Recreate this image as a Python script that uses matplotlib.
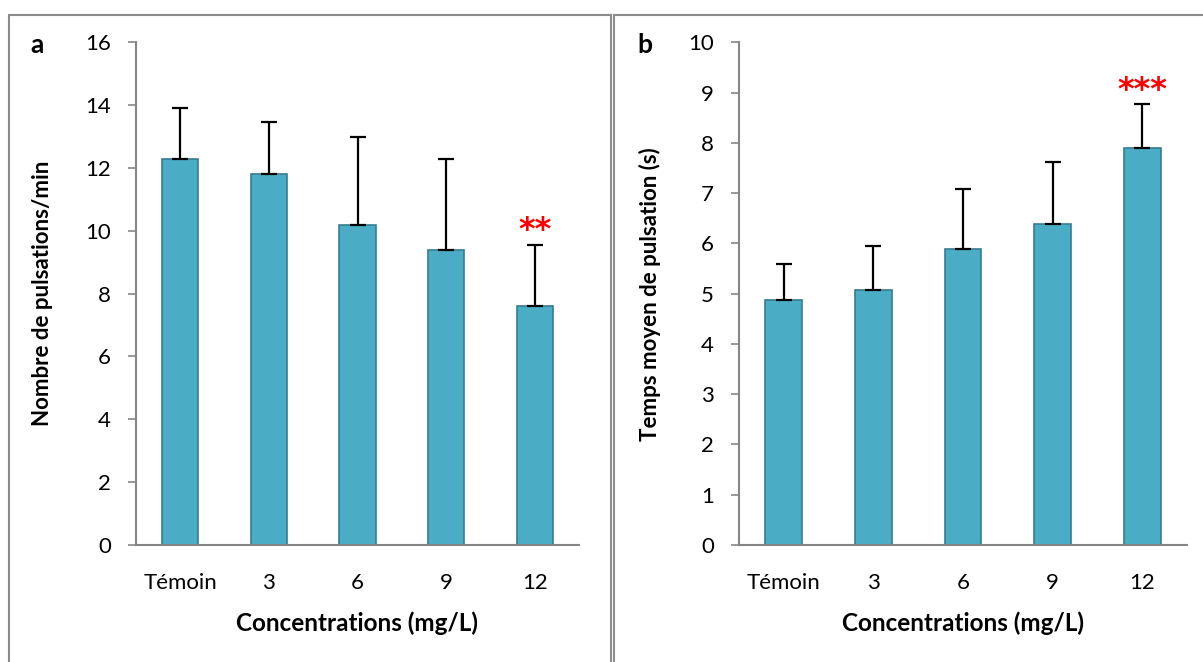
import matplotlib
matplotlib.use("Agg")
import matplotlib.pyplot as plt
from matplotlib.patches import Rectangle

plt.rcParams['font.family'] = ['Lato', 'DejaVu Sans']

# données des deux graphiques
categories = ['Témoin', '3', '6', '9', '12']

pulsations = [12.3, 11.8, 10.2, 9.4, 7.6]
pulsations_err = [1.6, 1.65, 2.8, 2.9, 1.95]

temps = [4.88, 5.08, 5.88, 6.38, 7.9]
temps_err = [0.7, 0.86, 1.2, 1.23, 0.87]

signif_a = ['', '', '', '', '**']
signif_b = ['', '', '', '', '***']

W, H = 1203, 662
fig = plt.figure(figsize=(W / 100, H / 100), dpi=100)

bar_color = '#4BACC6'
edge_color = '#357D91'
axis_gray = '#868686'


def px_axes(x0, x1, ytop, ybot):
    return fig.add_axes([x0 / W, (H - ybot) / H, (x1 - x0) / W, (ybot - ytop) / H])


def draw_panel(ax, values, errs, stars, ymax, ystep, ylabel, letter, letter_x, ylab_x):
    x = range(len(categories))
    ax.bar(x, values, width=0.41, color=bar_color, edgecolor=edge_color,
           linewidth=1.2, zorder=2)
    # barres d'erreur vers le haut seulement
    ax.errorbar(x, values, yerr=[[0] * len(errs), errs], fmt='none',
                ecolor='black', elinewidth=1.6, capsize=6, capthick=1.6, zorder=3)
    for i, s in enumerate(stars):
        if s:
            ax.annotate(s, xy=(i, values[i] + errs[i]), xytext=(0, 14),
                        textcoords='offset pixels', ha='center', va='center',
                        color='red', fontsize=23, fontweight='bold',
                        family='DejaVu Sans')
    ax.set_xlim(-0.5, len(categories) - 0.5)
    ax.set_ylim(0, ymax)
    ax.set_yticks([v * ystep for v in range(int(ymax / ystep) + 1)])
    ax.set_xticks(list(x))
    ax.set_xticklabels(categories)
    for sp in ['top', 'right']:
        ax.spines[sp].set_visible(False)
    for sp in ['left', 'bottom']:
        ax.spines[sp].set_color(axis_gray)
        ax.spines[sp].set_linewidth(1.5)
    ax.tick_params(axis='y', direction='out', length=6, width=1.2,
                   color=axis_gray, labelsize=16, pad=12)
    ax.tick_params(axis='x', length=0, labelsize=16, pad=20)
    ax.set_xlabel('Concentrations (mg/L)', fontsize=17.5, fontweight='bold', va='center')
    ax.xaxis.set_label_coords(0.5, -0.155)
    ax.set_ylabel(ylabel, fontsize=16, fontweight='bold', va='center')
    ax.yaxis.set_label_coords(ylab_x, 0.5)
    ax.text(letter_x, 0.995, letter, transform=ax.transAxes, fontsize=19,
            fontweight='bold', ha='center', va='center')


ax_a = px_axes(136, 579, 42.3, 545)
draw_panel(ax_a, pulsations, pulsations_err, signif_a, 16, 2,
           'Nombre de pulsations/min', 'a', -0.223, -0.212)

ax_b = px_axes(739, 1187, 42.3, 545)
draw_panel(ax_b, temps, temps_err, signif_b, 10, 1,
           'Temps moyen de pulsation (s)', 'b', -0.21, -0.199)

# cadres autour des deux graphiques
for x0, x1 in [(9, 611), (614, 1215)]:
    fig.patches.append(Rectangle((x0 / W, -0.05), (x1 - x0) / W, (H - 15) / H + 0.05,
                                 transform=fig.transFigure, fill=False,
                                 edgecolor='#8c8c8c', linewidth=1.5))

fig.savefig('out.png', dpi=100)
